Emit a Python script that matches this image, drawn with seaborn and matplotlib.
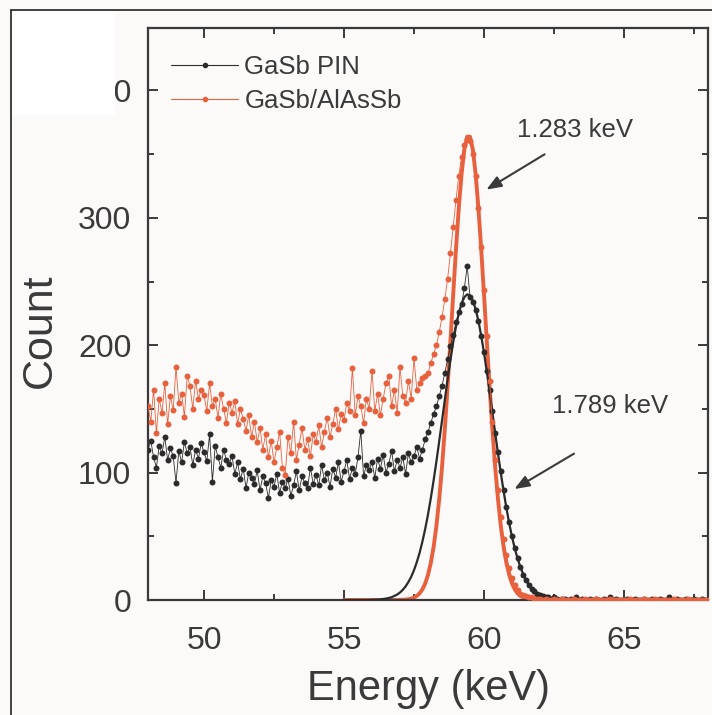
import numpy as np
import pandas as pd
import seaborn as sns
import matplotlib.pyplot as plt
from matplotlib.lines import Line2D
from matplotlib.patches import Rectangle
from matplotlib.ticker import MultipleLocator

# channel energies of the spectra (keV), 0.1 keV per channel
energy = np.round(np.arange(480, 681) / 10, 1)

# GaSb PIN measured counts, one row per keV (48.0 ... 68.0)
pin_counts = [
    118, 125, 112, 104, 121, 115, 128, 110, 119, 113,
    92, 117, 108, 124, 115, 120, 106, 118, 111, 123,
    116, 109, 130, 93, 121, 112, 104, 118, 110, 107,
    113, 99, 108, 95, 103, 88, 100, 96, 91, 102,
    86, 97, 92, 80, 94, 89, 99, 84, 93, 88,
    95, 82, 90, 101, 86, 97, 92, 88, 104, 91,
    98, 90, 106, 94, 100, 89, 103, 96, 108, 93,
    101, 110, 95, 104, 99, 112, 133, 97, 106, 102,
    108, 96, 111, 103, 114, 100, 107, 117, 101, 110,
    104, 112, 99, 115, 108, 113, 120, 111, 118, 126,
    132, 139, 146, 152, 160, 168, 178, 189, 199, 208,
    218, 226, 232, 245, 262, 238, 234, 228, 219, 207,
    195, 180, 165, 148, 131, 116, 101, 86, 73, 61,
    50, 41, 33, 26, 20, 16, 12, 9, 7, 5,
    4, 3, 2, 2, 1, 2, 1, 0, 1, 1,
    0, 1, 0, 2, 0, 1, 0, 0, 1, 0,
    1, 0, 0, 1, 0, 2, 0, 1, 0, 0,
    0, 1, 0, 0, 1, 0, 0, 1, 0, 0,
    1, 0, 0, 1, 0, 0, 2, 0, 0, 1,
    0, 0, 1, 0, 0, 1, 0, 0, 1, 0,
    0,
]

# GaSb/AlAsSb measured counts
alassb_counts = [
    152, 140, 165, 131, 158, 147, 170, 138, 160, 149,
    183, 155, 162, 144, 176, 168, 150, 172, 158, 165,
    161, 148, 170, 152, 158, 143, 162, 150, 139, 155,
    147, 156, 138, 150, 142, 133, 145, 128, 140, 124,
    135, 118, 130, 112, 125, 108, 120, 132, 104, 98,
    128, 115, 140, 110, 122, 135, 118, 126, 113, 130,
    124, 137, 120, 132, 143, 128, 138, 150, 134, 146,
    141, 155, 148, 182, 145, 160, 152, 139, 158, 150,
    180, 148, 162, 145, 158, 170, 176, 152, 165, 147,
    183, 160, 155, 172, 158, 190, 165, 170, 174, 176,
    178, 186, 193, 200, 210, 222, 236, 252, 272, 293,
    314, 333, 348, 357, 362, 360, 350, 333, 308, 277,
    243, 207, 172, 140, 110, 86, 65, 48, 35, 25,
    17, 12, 8, 5, 4, 3, 2, 2, 1, 1,
    1, 0, 1, 0, 0, 1, 0, 0, 1, 0,
    0, 0, 1, 0, 0, 0, 1, 0, 0, 0,
    1, 0, 0, 0, 0, 1, 0, 0, 0, 0,
    0, 0, 1, 0, 0, 0, 0, 1, 0, 0,
    0, 1, 0, 0, 0, 0, 0, 0, 1, 0,
    0, 0, 0, 1, 0, 0, 0, 0, 0, 0,
    0,
]

# gaussian fits, 55.0 ... 63.0 keV plus the end at 68
fit_energy = np.append(np.round(np.arange(550, 631) / 10, 1), 68.0)
pin_fit = [
    0, 0, 0, 0, 0, 0, 0, 0, 0, 0,
    0.2, 0.2, 0.3, 0.5, 0.8, 1.1, 1.6, 2.2, 3.2, 4.3,
    5.9, 8.0, 10.7, 14.1, 18.2, 23.4, 29.7, 37.0, 45.8, 55.8,
    67.1, 79.9, 93.8, 108.7, 124.5, 140.7, 157.0, 173.1, 188.3, 202.3,
    214.8, 224.9, 232.8, 237.8, 239.9, 239.0, 235.1, 228.4, 219.1, 207.5,
    194.1, 179.3, 163.4, 147.2, 130.9, 115.0, 99.7, 85.4, 72.2, 60.2,
    49.6, 40.4, 32.5, 25.8, 20.2, 15.6, 12.0, 9.0, 6.7, 4.9,
    3.6, 2.6, 1.8, 1.3, 0.9, 0.6, 0.4, 0.3, 0.2, 0.1,
    0.1, 0,
]
alassb_fit = [
    0, 0, 0, 0, 0, 0, 0, 0, 0, 0,
    0, 0, 0, 0, 0, 0, 0, 0, 0, 0,
    0.1, 0.2, 0.3, 0.6, 1.1, 1.9, 3.2, 5.2, 8.3, 12.9,
    19.7, 29.1, 41.6, 58.1, 79.0, 104.2, 133.8, 167.1, 203.0, 239.8,
    275.5, 307.9, 334.6, 353.8, 363.7, 363.7, 353.8, 334.6, 307.9, 275.5,
    239.8, 203.0, 167.1, 133.8, 104.2, 79.0, 58.1, 41.6, 29.1, 19.7,
    12.9, 8.3, 5.2, 3.2, 1.9, 1.1, 0.6, 0.3, 0.2, 0.1,
    0, 0, 0, 0, 0, 0, 0, 0, 0, 0,
    0, 0,
]

series_labels = ['GaSb PIN', 'GaSb/AlAsSb']
resolution_labels = ['1.283 keV', '1.789 keV']

black = '#2b2b2b'
red = '#e8613f'
ink = '#3a3a3a'
bg = '#fbfaf8'

sns.set_style('ticks')
plt.rcParams['font.family'] = ['Liberation Sans', 'DejaVu Sans']

spectra = pd.DataFrame({'Energy': energy, 'pin': pin_counts, 'alassb': alassb_counts})
fits = pd.DataFrame({'Energy': fit_energy, 'pin': pin_fit, 'alassb': alassb_fit})

fig = plt.figure(figsize=(7.12, 7.15), dpi=100, facecolor=bg)
ax = fig.add_axes([148 / 712, 1 - 600 / 715, 560 / 712, 572 / 715])
ax.set_facecolor(bg)

sns.lineplot(data=fits, x='Energy', y='alassb', color=red, linewidth=2.8, ax=ax, zorder=2)
sns.lineplot(data=fits, x='Energy', y='pin', color=black, linewidth=1.6, ax=ax, zorder=3)
sns.lineplot(data=spectra, x='Energy', y='pin', color=black, linewidth=0.6,
             marker='o', markersize=4.3, markeredgewidth=0, ax=ax, zorder=4)
sns.lineplot(data=spectra, x='Energy', y='alassb', color=red, linewidth=0.6,
             marker='o', markersize=4.3, markeredgewidth=0, ax=ax, zorder=5)

ax.set_xlim(48, 68)
ax.set_ylim(0, 449)
ax.xaxis.set_major_locator(MultipleLocator(5))
ax.xaxis.set_minor_locator(MultipleLocator(2.5))
ax.yaxis.set_major_locator(MultipleLocator(100))
ax.yaxis.set_minor_locator(MultipleLocator(50))
ax.tick_params(which='both', direction='in', top=True, right=True, color=ink, width=1.4)
ax.tick_params(which='major', length=7, labelsize=23, labelcolor=ink, pad=12)
ax.tick_params(axis='x', which='major', pad=19)
ax.tick_params(which='minor', length=4)
for s in ax.spines.values():
    s.set_linewidth(1.6)
    s.set_color(ink)

ax.set_xlabel('Energy (keV)', fontsize=30, color=ink)
ax.set_ylabel('Count', fontsize=31, color=ink)
ax.xaxis.set_label_coords(0.5, -0.12)
ax.yaxis.set_label_coords(-0.158, 0.47)

handles = [Line2D([], [], color=black, lw=0.8, marker='o', ms=3),
           Line2D([], [], color=red, lw=0.8, marker='o', ms=3)]
ax.legend(handles, series_labels, loc='upper left', bbox_to_anchor=(0.0, 0.993),
          frameon=False, fontsize=18.5, handlelength=2.6, handletextpad=0.25,
          labelspacing=0.4, labelcolor=ink)

arrow = dict(arrowstyle='-|>,head_length=0.9,head_width=0.35', color=ink, lw=1.5)
ax.annotate('', xy=(60.0, 321), xytext=(62.25, 351), arrowprops=arrow)
ax.annotate('', xy=(61.0, 86), xytext=(63.3, 116), arrowprops=arrow)
ax.text(63.25, 369, resolution_labels[0], fontsize=18.5, color=ink, ha='center', va='center')
ax.text(64.5, 152, resolution_labels[1], fontsize=18.5, color=ink, ha='center', va='center')

# scan artefacts: white block over the top-left label and the frame edge
fig.patches.append(Rectangle((13 / 712, 1 - 115 / 715), 102 / 712, 103 / 715,
                             transform=fig.transFigure, facecolor='white',
                             edgecolor='none', zorder=5))
fig.lines.append(Line2D([11 / 712, 11 / 712], [0, 1 - 10 / 715], transform=fig.transFigure,
                        color='#222222', lw=1.2, zorder=6))
fig.lines.append(Line2D([11 / 712, 1], [1 - 10 / 715, 1 - 10 / 715], transform=fig.transFigure,
                        color='#222222', lw=1.2, zorder=6))

fig.savefig('out.png', dpi=100, facecolor=bg)
